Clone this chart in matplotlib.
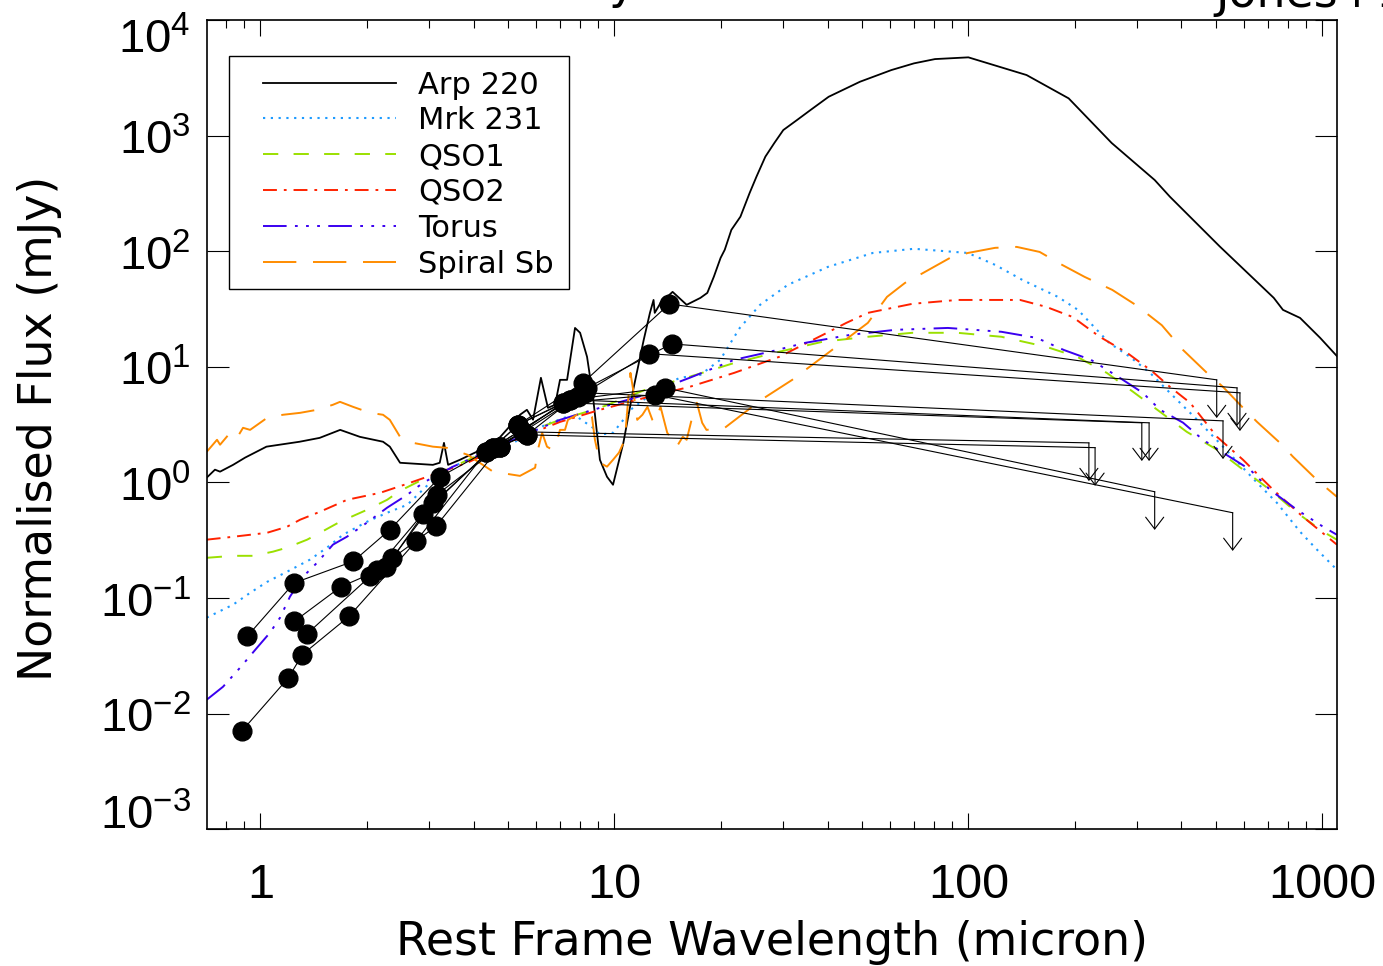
import matplotlib
matplotlib.use('Agg')
import matplotlib.pyplot as plt
from matplotlib import font_manager
from matplotlib.ticker import LogLocator, NullLocator, NullFormatter
from matplotlib.patches import Rectangle
from matplotlib.lines import Line2D
import matplotlib.transforms as mtransforms

names = {f.name for f in font_manager.fontManager.ttflist}
TICKFONT = 'Liberation Sans Narrow' if 'Liberation Sans Narrow' in names else (
    'Liberation Sans' if 'Liberation Sans' in names else 'DejaVu Sans')
LABELFONT = 'DejaVu Sans'
plt.rcParams['font.family'] = [LABELFONT]
plt.rcParams['lines.scale_dashes'] = False

# ---------------- template SEDs (wavelength micron, flux mJy) ----------------
arp220_wave = [0.705, 0.744, 0.769, 0.837, 0.905, 1.04, 1.29, 1.47, 1.68, 1.91, 2.22, 2.32,
               2.48, 3.07, 3.21, 3.30, 3.39, 3.66, 4.17, 4.75, 5.41, 5.66, 5.89, 6.20,
               6.49, 6.80, 7.02, 7.35, 7.74, 8.00, 8.37, 8.70, 9.10, 9.53, 9.91, 10.6,
               11.3, 12.1, 12.6, 12.9, 13.0, 13.5, 14.6, 16.0, 17.5, 18.3, 19.1, 19.95,
               20.5, 21.4, 22.7, 24.1, 25.2, 26.7, 28.3, 30.0, 32.8, 35.8, 40.3, 49.4,
               60.6, 70.2, 80.5, 100, 146, 192, 254, 336, 371, 513, 729, 774, 865, 986, 1099]
arp220_flux = [1.10, 1.29, 1.24, 1.42, 1.64, 2.04, 2.25, 2.43, 2.85, 2.48, 2.25, 2.04,
               1.48, 1.42, 1.48, 2.20, 1.42, 1.57, 1.90, 2.46, 3.85, 4.25, 3.49, 8.04,
               4.42, 4.70, 7.72, 7.72, 21.7, 19.7, 12.2, 5.51, 1.57, 1.12, 0.955, 2.20,
               6.32, 17.1, 29.3, 37.9, 29.3, 35.7, 44.5, 34.4, 39.5, 43.6, 60.3, 87.5,
               103, 153, 199, 319, 442, 658, 863, 1117, 1364, 1664, 2168, 2924,
               3690, 4217, 4592, 4753, 3342, 2100, 863, 413, 296, 110, 39.5, 31.1, 26.5, 17.8, 12.4]

mrk231_wave = [0.705, 0.837, 0.935, 1.044, 1.189, 1.380, 1.542, 1.711, 1.999, 2.28, 2.60,
               3.07, 3.50, 4.17, 5.41, 6.37, 7.35, 7.84, 8.70, 9.10, 9.91, 10.6, 11.1,
               11.8, 13.5, 15.3, 17.5, 19.9, 22.6, 25.8, 30.9, 40.1, 53.7, 70.2, 99.7,
               119, 142, 179, 204, 250, 286, 326, 371, 443, 524, 654, 744, 865, 966, 1099]
mrk231_flux = [0.0677, 0.0877, 0.111, 0.138, 0.169, 0.215, 0.273, 0.353, 0.457, 0.547, 0.641,
               1.05, 1.37, 1.74, 2.34, 3.15, 3.70, 3.70, 2.97, 2.59, 2.69, 3.48, 4.25,
               4.89, 6.71, 8.03, 8.53, 11.5, 21.7, 34.4, 51.2, 73.2, 96.6, 105, 96.6,
               76.2, 56.5, 40.3, 31.1, 16.1, 12.2, 8.87, 5.96, 3.48, 2.04, 0.994, 0.667, 0.375, 0.262, 0.176]

qso1_wave = [0.705, 0.837, 0.953, 1.085, 1.189, 1.355, 1.473, 1.678, 2.00, 2.28, 2.48, 2.82,
             3.50, 4.17, 5.41, 7.02, 9.10, 12.2, 16.3, 21.8, 29.2, 38.8, 52.0, 69.5, 93.1,
             124, 166, 203, 246, 292, 348, 414, 504, 597, 711, 848, 1005, 1099]
qso1_flux = [0.223, 0.232, 0.232, 0.252, 0.273, 0.320, 0.367, 0.457, 0.580, 0.708, 0.847, 1.03,
             1.37, 1.74, 2.58, 3.48, 4.42, 6.32, 8.20, 10.8, 13.5, 16.5, 18.2, 19.7, 19.7,
             18.2, 14.9, 12.2, 8.87, 6.08, 4.08, 2.74, 1.92, 1.29, 0.865, 0.547, 0.375, 0.320]

qso2_wave = [0.705, 0.837, 1.044, 1.189, 1.294, 1.473, 1.757, 2.18, 2.60, 2.96, 3.84, 5.41,
             7.02, 9.10, 12.2, 16.3, 21.8, 29.2, 38.8, 45.2, 52.0, 69.5, 93.1, 140, 166,
             197, 235, 281, 332, 371, 423, 504, 597, 726, 881, 1099]
qso2_flux = [0.320, 0.339, 0.367, 0.414, 0.476, 0.558, 0.708, 0.814, 0.975, 1.12, 1.48, 2.43,
             3.34, 4.25, 5.40, 6.71, 8.87, 12.2, 18.9, 24.0, 29.3, 35.1, 37.9, 37.9, 33.0,
             27.0, 18.2, 13.2, 9.05, 6.71, 4.89, 2.48, 1.57, 0.865, 0.505, 0.290]

torus_wave = [0.705, 0.784, 0.876, 0.978, 1.064, 1.136, 1.212, 1.319, 1.445, 1.603, 1.757,
              1.999, 2.28, 2.60, 2.88, 3.50, 4.17, 5.41, 7.02, 9.10, 12.2, 16.3, 21.8, 27.5,
              34.5, 46.3, 62.1, 87.5, 124, 156, 186, 222, 265, 311, 348, 404, 460, 524, 625,
              711, 848, 1005, 1099]
torus_flux = [0.0132, 0.0171, 0.0250, 0.0372, 0.0502, 0.0677, 0.103, 0.153, 0.202, 0.290, 0.340,
              0.449, 0.605, 0.783, 0.994, 1.37, 1.74, 2.48, 3.48, 4.42, 5.73, 8.03, 11.5, 13.5,
              16.1, 18.9, 20.9, 21.7, 20.1, 17.8, 14.0, 11.5, 8.20, 5.96, 4.25, 3.29, 2.34, 1.81, 1.29,
              0.865, 0.580, 0.414, 0.353]

spiral_wave = [0.705, 0.754, 0.769, 0.821, 0.859, 0.893, 0.935, 1.044, 1.158, 1.294, 1.445,
               1.603, 1.678, 1.826, 2.04, 2.22, 2.32, 2.48, 2.70, 3.07, 3.37, 3.84, 4.25, 4.54,
               5.41, 5.97, 6.08, 6.25, 6.45, 6.67, 6.89, 7.02, 7.25, 7.39, 7.84, 8.36, 8.64,
               8.81, 9.10, 9.53, 9.91, 10.3, 10.7, 11.1, 11.3, 11.6, 12.0, 12.4, 12.8, 13.0,
               13.5, 14.1, 14.6, 15.0, 15.6, 16.0, 16.6, 17.1, 17.7, 18.2, 20.5, 26.0, 31.8,
               41.2, 52.0, 58.9, 66.2, 74.5, 88.7, 99.7, 119, 137, 159, 184, 213, 255, 298,
               352, 404, 472, 524, 597, 654, 759, 826, 966, 1099]
spiral_flux = [1.84, 2.34, 2.12, 2.69, 2.44, 2.97, 2.85, 3.62, 3.85, 4.00, 4.25,
               4.70, 4.98, 4.51, 4.00, 3.85, 3.48, 2.48, 2.20, 2.04, 1.99, 1.74, 1.42, 1.24,
               1.14, 1.34, 1.92, 2.69, 2.04, 1.92, 2.34, 2.85, 2.85, 3.48, 3.85, 4.08, 3.70,
               2.34, 1.48, 1.37, 1.57, 1.81, 2.34, 8.87, 6.32, 3.48, 3.85, 4.51, 3.48, 3.28,
               4.51, 2.69, 2.34, 2.04, 2.48, 2.34, 3.70, 4.89, 3.28, 2.85, 2.97, 5.19, 7.72,
               14.0, 24.0, 40.3, 53.2, 64.9, 87.5, 96.6, 107, 109, 98.6, 76.2, 60.0, 46.3, 34.1,
               22.9, 14.0, 8.87, 6.71, 4.42, 3.34, 2.20, 1.67, 1.05, 0.752]

# ---------------- photometry of the sources (detections, then one upper limit) --------
src_wave = [
    [0.918, 1.244, 1.83, 2.32, 3.22, 4.54, 5.34, 8.15, 14.3],
    [0.885, 1.199, 1.313, 1.78, 2.75, 4.34, 5.66, 8.37, 14.5],
    [1.247, 1.685, 2.27, 3.15, 4.75, 5.52, 7.90, 12.5],
    [1.356, 2.04, 2.87, 4.54, 7.50, 13.9],
    [2.13, 3.13, 4.75, 7.16, 13.0],
    [2.36, 3.08, 5.34, 7.16],
    [4.54, 7.50],
    [5.34, 8.26],
    [4.34, 5.52],
    [4.75, 5.66],
]
src_flux = [
    [0.0467, 0.135, 0.208, 0.390, 1.12, 2.00, 3.15, 7.28, 35.0],
    [0.00705, 0.0204, 0.0324, 0.0695, 0.309, 1.84, 2.58, 6.58, 15.8],
    [0.0629, 0.125, 0.186, 0.783, 2.04, 2.74, 5.51, 13.0],
    [0.0492, 0.154, 0.533, 2.00, 5.19, 6.58],
    [0.176, 0.417, 2.04, 4.89, 5.73],
    [0.222, 0.664, 3.15, 4.89],
    [2.00, 5.19],
    [3.15, 5.96],
    [1.84, 2.74],
    [2.04, 2.58],
]
ul_wave = [503, 574, 585, 336, 558, 309, 324, 524, 219, 228]
ul_flux = [7.72, 6.58, 5.96, 0.831, 0.547, 3.28, 3.28, 3.41, 2.20, 2.00]

legend_labels = ['Arp 220', 'Mrk 231', 'QSO1', 'QSO2', 'Torus', 'Spiral Sb']
xtick_vals = [1, 10, 100, 1000]
xtick_labels = ['1', '10', '100', '1000']
ytick_vals = [1e-3, 1e-2, 1e-1, 1e0, 1e1, 1e2, 1e3, 1e4]
ytick_labels = [r'$\mathregular{10^{-3}}$', r'$\mathregular{10^{-2}}$', r'$\mathregular{10^{-1}}$',
                r'$\mathregular{10^{0}}$', r'$\mathregular{10^{1}}$', r'$\mathregular{10^{2}}$',
                r'$\mathregular{10^{3}}$', r'$\mathregular{10^{4}}$']

# ---------------- styles ----------------
styles = [
    dict(color='black', ls='-', lw=1.3),
    dict(color='#1E9BFF', ls=(0, (1.6, 4.0)), lw=1.5),
    dict(color='#9BE000', ls=(0, (11, 11)), lw=1.4),
    dict(color='#FF2200', ls=(0, (10, 5, 2, 5)), lw=1.4),
    dict(color='#3A00F0', ls=(0, (17, 6, 2, 6, 2, 6, 2, 6)), lw=1.4),
    dict(color='#FF8C00', ls=(0, (24, 12)), lw=1.4),
]
curves = [(arp220_wave, arp220_flux), (mrk231_wave, mrk231_flux), (qso1_wave, qso1_flux),
          (qso2_wave, qso2_flux), (torus_wave, torus_flux), (spiral_wave, spiral_flux)]

W, H = 1383, 966
fig = plt.figure(figsize=(W / 100, H / 100), dpi=100)
L, R, T, B = 206.7, 1337.0, 20.0, 829.3
ax = fig.add_axes([L / W, 1 - B / H, (R - L) / W, (B - T) / H])
ax.set_xscale('log')
ax.set_yscale('log')
ax.set_xlim(0.705, 1100)
ax.set_ylim(1e-3, 1e4)

for (w, f), st in zip(curves, styles):
    ax.plot(w, f, **st, zorder=2)

ARROW_DEX = 0.33
for w, f, uw, uf in zip(src_wave, src_flux, ul_wave, ul_flux):
    ax.plot(list(w) + [uw], list(f) + [uf], color='black', lw=0.8, zorder=3)
    ax.plot(w, f, 'o', color='black', ms=13.5, zorder=4)
    ax.annotate('', xy=(uw, uf * 10 ** (-ARROW_DEX)), xytext=(uw, uf),
                arrowprops=dict(arrowstyle='->,head_length=8.5,head_width=6.5',
                                color='black', lw=0.8, shrinkA=0, shrinkB=0,
                                mutation_scale=1), zorder=3)

# axes / ticks (IDL style)
for sp in ax.spines.values():
    sp.set_linewidth(1.2)
ax.xaxis.set_major_locator(LogLocator(base=10, numticks=20))
ax.xaxis.set_minor_locator(LogLocator(base=10, subs=range(2, 10), numticks=100))
ax.xaxis.set_minor_formatter(NullFormatter())
ax.yaxis.set_major_locator(LogLocator(base=10, numticks=20))
ax.yaxis.set_minor_locator(NullLocator())
ax.tick_params(which='both', direction='in', top=True, right=True,
               labelbottom=False, labelleft=False, width=0.8)
ax.xaxis.set_tick_params(which='major', length=11.5)
ax.xaxis.set_tick_params(which='minor', length=5.8)
ax.yaxis.set_tick_params(which='major', length=15.8)

# tick labels
dpi_t = fig.dpi_scale_trans
for v, lab in zip(xtick_vals, xtick_labels):
    ax.text(v, 0, lab, transform=ax.get_xaxis_transform() +
            mtransforms.ScaledTranslation(0, -69 / 100, dpi_t),
            ha='center', va='baseline', fontsize=35, family=TICKFONT)
for v, lab in zip(ytick_vals, ytick_labels):
    dy = -19
    if v == ytick_vals[-1]:
        dy = -33
    elif v == ytick_vals[0]:
        dy = 0
    ax.text(0, v, lab, transform=ax.get_yaxis_transform() +
            mtransforms.ScaledTranslation(-16 / 100, dy / 100, dpi_t),
            ha='right', va='baseline', fontsize=34, family=TICKFONT)

# axis labels
fig.text((L + R) / 2 / W, 1 - 955 / H, 'Rest Frame Wavelength (micron)',
         ha='center', va='baseline', fontsize=33)
fig.text(52 / W, 1 - 428 / H, 'Normalised Flux (mJy)', rotation=90,
         rotation_mode='anchor', ha='center', va='baseline', fontsize=33)

# cropped title fragments at the top edge (as in the reference)
fig.text(622 / W, 1 + 2 / H, 'y', ha='center', va='baseline', fontsize=33)
fig.text(1215 / W, 1 - 7 / H, 'Jones+13', ha='left', va='baseline', fontsize=33)

# legend box (IDL style)
def ax_x(px):
    return (px - L) / (R - L)

def ax_y(py):
    return (B - py) / (B - T)

ax.add_patch(Rectangle((ax_x(229), ax_y(289)), ax_x(569) - ax_x(229), ax_y(56) - ax_y(289),
                       transform=ax.transAxes, fill=True, facecolor='white',
                       edgecolor='black', lw=1.0, zorder=5))
row_y = [82.7, 118.3, 154.3, 190.0, 225.7, 261.7]
for ry, st, lab in zip(row_y, styles, legend_labels):
    ax.add_line(Line2D([ax_x(263), ax_x(396)], [ax_y(ry), ax_y(ry)], transform=ax.transAxes,
                       zorder=6, **st))
    ax.text(ax_x(418), ax_y(ry + 11), lab, transform=ax.transAxes, ha='left',
            va='baseline', fontsize=22, zorder=6)

fig.savefig('out.png', dpi=100)
